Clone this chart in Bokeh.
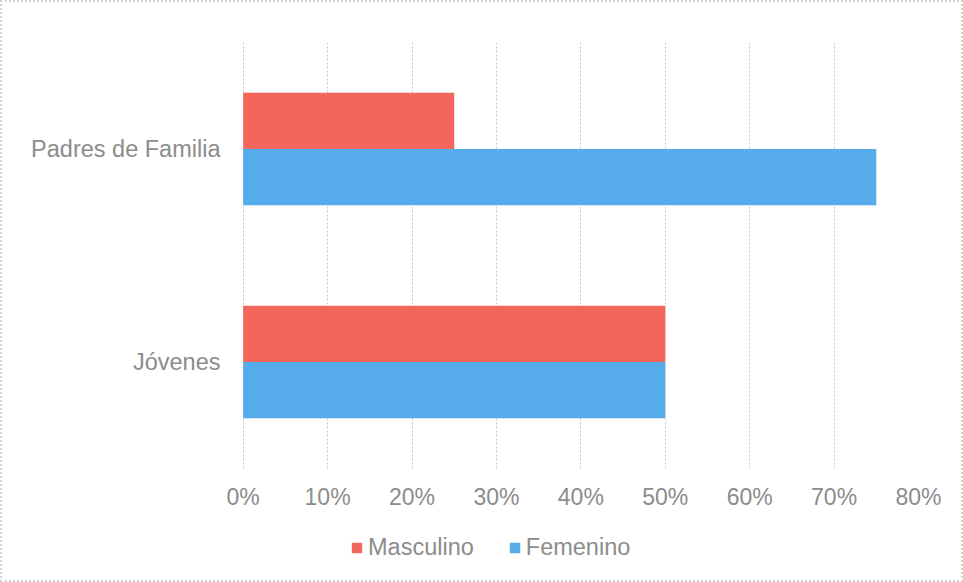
from bokeh.plotting import figure
from bokeh.layouts import column
from bokeh.models import ColumnDataSource, Range1d, FixedTicker, NumeralTickFormatter, Legend, LegendItem
from bokeh.embed import file_html
from bokeh.resources import INLINE

categories = ["Jóvenes", "Padres de Familia"]
series = ["Masculino", "Femenino"]
masculino = [50, 25]
femenino = [50, 75]
x_ticks = [0, 10, 20, 30, 40, 50, 60, 70, 80]

pos = list(range(len(categories)))
bar_h = 0.264
src = ColumnDataSource(dict(
    y_m=[p + bar_h / 2 for p in pos],
    y_f=[p - bar_h / 2 for p in pos],
    m=[v / 100 for v in masculino],
    f=[v / 100 for v in femenino],
))

FONT = "Liberation Sans"
GREY = "#8c8c8c"
RED = "#F2665C"
BLUE = "#56ACEA"

p = figure(width=963, height=520, output_backend="svg", toolbar_location=None,
           x_range=Range1d(-0.0008, 0.8), y_range=Range1d(-0.5, 1.5),
           min_border_left=242, min_border_right=45, min_border_top=42, min_border_bottom=52)

p.hbar(y="y_m", right="m", left=0, height=bar_h, source=src, color=RED, line_width=0)
p.hbar(y="y_f", right="f", left=0, height=bar_h, source=src, color=BLUE, line_width=0)

p.outline_line_color = None
p.ygrid.grid_line_color = None
p.xgrid.grid_line_color = "#c8c8c8"
p.xgrid.grid_line_dash = "2 2"
p.xgrid.ticker = FixedTicker(ticks=[t / 100 for t in x_ticks])

p.xaxis.ticker = FixedTicker(ticks=[t / 100 for t in x_ticks])
p.xaxis.formatter = NumeralTickFormatter(format="0%")
p.yaxis.ticker = FixedTicker(ticks=pos)
p.yaxis.major_label_overrides = {i: c for i, c in enumerate(categories)}

for ax in (p.xaxis, p.yaxis):
    ax.axis_line_color = None
    ax.major_tick_line_color = None
    ax.minor_tick_line_color = None
    ax.major_label_text_font = FONT
    ax.major_label_text_color = GREY
    ax.major_label_text_font_size = "23px"
p.yaxis.major_label_text_font_size = "23.5px"
p.xaxis.major_label_standoff = 9
p.yaxis.major_label_standoff = 16
p.border_fill_color = None
p.background_fill_color = None

# legend strip below the chart (its frame is aligned with the chart frame)
lg = figure(width=963, height=62, output_backend="svg", toolbar_location=None,
            x_range=Range1d(0, 1), y_range=Range1d(10, 11),
            x_axis_type=None, y_axis_type=None,
            min_border_left=0, min_border_right=0, min_border_top=0, min_border_bottom=0)
lg.outline_line_color = None
lg.xgrid.grid_line_color = None
lg.ygrid.grid_line_color = None
lg.border_fill_color = None
lg.background_fill_color = None
r1 = lg.hbar(y="y_m", right="m", left=0, height=bar_h, source=src, color=RED, line_width=0)
r2 = lg.hbar(y="y_f", right="f", left=0, height=bar_h, source=src, color=BLUE, line_width=0)

legend = Legend(items=[LegendItem(label=series[0], renderers=[r1]),
                       LegendItem(label=series[1], renderers=[r2])],
                orientation="horizontal", location=(108, 21))
legend.label_text_font = FONT
legend.label_text_color = GREY
legend.label_text_font_size = "23.5px"
legend.glyph_width = 13
legend.glyph_height = 13
legend.spacing = 34
legend.label_standoff = 5
legend.padding = 5
legend.margin = 0
legend.border_line_color = None
legend.background_fill_alpha = 0
lg.add_layout(legend)

layout = column(p, lg, spacing=0)
layout.styles = {"outline": "2px dotted #d2d2d2", "outline-offset": "-2px"}

open("out.html", "w").write(file_html(layout, INLINE))
